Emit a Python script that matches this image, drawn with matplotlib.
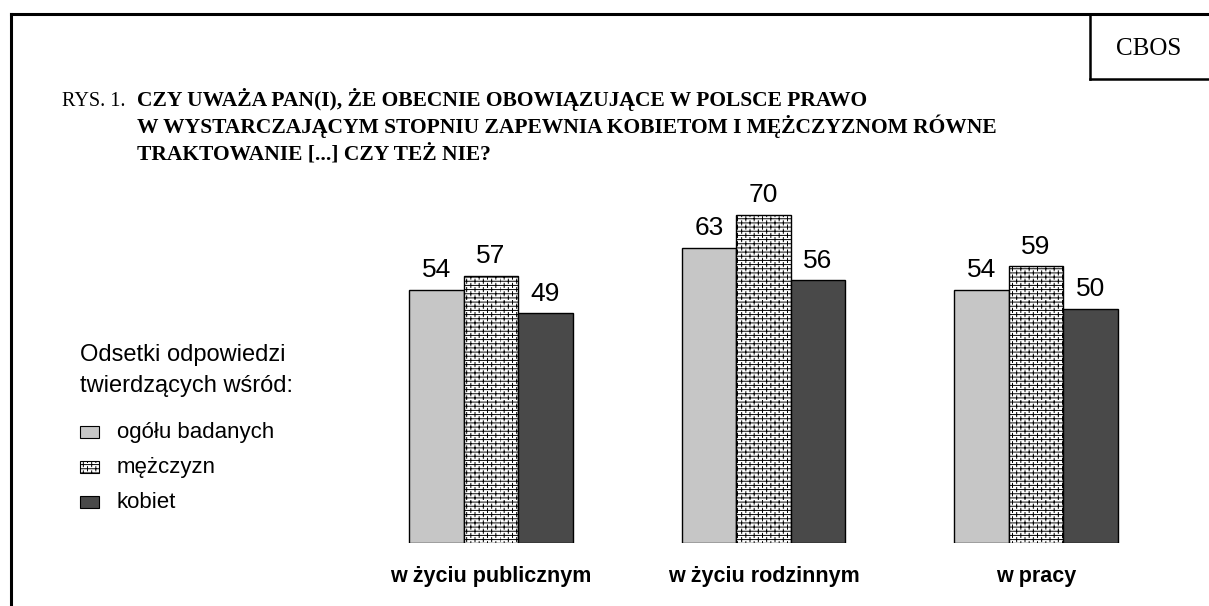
import matplotlib
matplotlib.use("Agg")
import matplotlib.pyplot as plt
import matplotlib.hatch as mhatch
from matplotlib.path import Path
from matplotlib.patches import Rectangle
from matplotlib.lines import Line2D
import numpy as np

categories = ["w życiu publicznym", "w życiu rodzinnym", "w pracy"]
series_names = ["ogółu badanych", "mężczyzn", "kobiet"]
ogolu = [54, 63, 54]
mezczyzn = [57, 70, 59]
kobiet = [49, 56, 50]
series_values = [ogolu, mezczyzn, kobiet]

colors = ["#c6c6c6", "#ffffff", "#494949"]
hatches = [None, "----||||", None]


# brick-like hatch: replace the vertical-line hatch with offset brick joints
class BrickVertical(mhatch.HatchPatternBase):
    def __init__(self, hatch, density):
        self.num_rows = hatch.count('|') * density
        self.num_cols = self.num_rows // 2
        self.num_vertices = self.num_rows * self.num_cols * 2 if self.num_rows else 0

    def set_vertices_and_codes(self, vertices, codes):
        k = 0
        for i in range(self.num_rows):
            off = 0.5 * (i % 2)
            for j in range(self.num_cols):
                xx = (j + off) / self.num_cols
                vertices[k] = (xx, i / self.num_rows)
                vertices[k + 1] = (xx, (i + 1) / self.num_rows)
                codes[k] = Path.MOVETO
                codes[k + 1] = Path.LINETO
                k += 2


for idx, t in enumerate(mhatch._hatch_types):
    if t is mhatch.VerticalHatch:
        mhatch._hatch_types[idx] = BrickVertical

plt.rcParams["hatch.color"] = "#969696"
plt.rcParams["hatch.linewidth"] = 0.7

W, H = 1209, 606
fig = plt.figure(figsize=(W / 100, H / 100), dpi=100)
fig.patch.set_facecolor("white")


def px(x, y):
    return x / W, 1 - y / H


left, right = 354.75, 1172.25
base, top = 543, 74
ax = fig.add_axes([left / W, (H - base) / H, (right - left) / W, (base - top) / H])
ax.set_xlim(-0.5, 2.5)
ax.set_ylim(0, 100)
ax.axis("off")

x = np.arange(len(categories))
bw = 0.2
for i, vals in enumerate(series_values):
    pos = x + (i - 1) * bw
    ax.bar(pos, vals, width=bw, color=colors[i], edgecolor="black",
           linewidth=1.0, hatch=hatches[i], zorder=2)
    for xp, v in zip(pos, vals):
        ax.annotate(str(v), (xp, v), xytext=(0, 9), textcoords="offset points",
                    ha="center", va="baseline", fontsize=19, family="Liberation Sans")

for xi, c in zip(x, categories):
    ax.annotate(c, (xi, 0), xytext=(0, -28), textcoords="offset points",
                ha="center", va="baseline", fontsize=15.5, fontweight="bold",
                family="Liberation Sans")

# frame lines
fig.add_artist(Line2D([11 / W, 11 / W], [0, 1 - 14 / H], color="black", lw=2.2))
fig.add_artist(Line2D([11 / W, 1], [1 - 14 / H, 1 - 14 / H], color="black", lw=2.2))
# CBOS box
fig.add_artist(Line2D([1090 / W, 1090 / W], [1 - 14 / H, 1 - 79 / H], color="black", lw=1.8))
fig.add_artist(Line2D([1090 / W, 1], [1 - 79 / H, 1 - 79 / H], color="black", lw=1.8))
fig.text(*px(1149, 55), "CBOS", ha="center", va="baseline", fontsize=18,
         family="Liberation Serif")

# title
fig.text(*px(62, 106), "RYS. 1.", ha="left", va="baseline", fontsize=14.5,
         family="Liberation Serif")
title_lines = ["CZY UWAŻA PAN(I), ŻE OBECNIE OBOWIĄZUJĄCE W POLSCE PRAWO",
               "W WYSTARCZAJĄCYM STOPNIU ZAPEWNIA KOBIETOM I MĘŻCZYZNOM RÓWNE",
               "TRAKTOWANIE [...] CZY TEŻ NIE?"]
for k, t in enumerate(title_lines):
    fig.text(*px(137, 106 + 27 * k), t, ha="left", va="baseline", fontsize=15.5,
             fontweight="bold", family="Liberation Serif")

# legend
fig.text(*px(80, 361), "Odsetki odpowiedzi", ha="left", va="baseline", fontsize=17,
         family="Liberation Sans")
fig.text(*px(80, 392), "twierdzących wśród:", ha="left", va="baseline", fontsize=17,
         family="Liberation Sans")
for k, name in enumerate(series_names):
    yc = 432 + 35 * k
    r = Rectangle(px(80, yc + 6), 19 / W, 12 / H, transform=fig.transFigure,
                  facecolor=colors[k], edgecolor="black", lw=0.8,
                  hatch=hatches[k])
    fig.add_artist(r)
    fig.text(*px(117, yc + 6), name, ha="left", va="baseline", fontsize=16,
             family="Liberation Sans")

fig.savefig("out.png", dpi=100, facecolor="white")
